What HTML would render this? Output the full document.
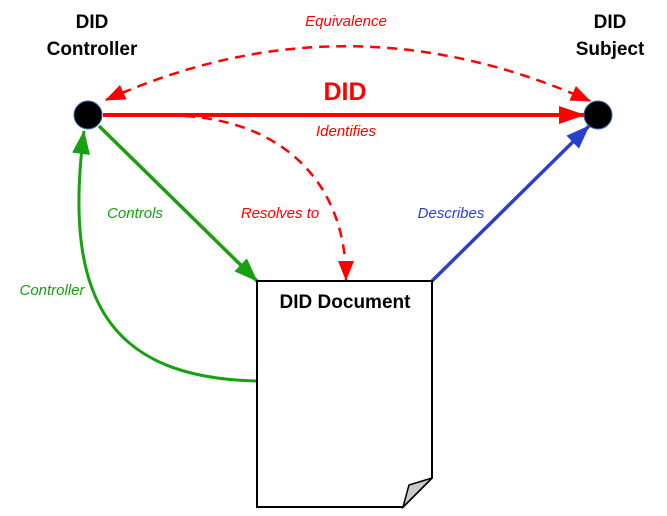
<!DOCTYPE html>
<html><head><style>body{margin:0;background:#fff}svg{display:block}</style></head><body>
<svg width="667" height="516" viewBox="0 0 667 516" xmlns="http://www.w3.org/2000/svg" font-family="Liberation Sans, sans-serif">
<defs>
<marker id="rb" markerWidth="26" markerHeight="18" refX="25" refY="9" orient="auto" markerUnits="userSpaceOnUse"><path d="M0,0L26,9L0,18z" fill="#f00"/></marker>
<marker id="rs" markerWidth="20" markerHeight="16" refX="19" refY="8" orient="auto-start-reverse" markerUnits="userSpaceOnUse"><path d="M0,0L20,8L0,16z" fill="#f00"/></marker>
<marker id="g" markerWidth="24" markerHeight="18" refX="23" refY="9" orient="auto" markerUnits="userSpaceOnUse"><path d="M0,0L24,9L0,18z" fill="#19a010"/></marker>
<marker id="b" markerWidth="24" markerHeight="18" refX="23" refY="9" orient="auto" markerUnits="userSpaceOnUse"><path d="M0,0L24,9L0,18z" fill="#2a3fcc"/></marker>
</defs>
<path d="M106,100 Q345,-8 590,101" fill="none" stroke="#f00" stroke-width="2.5" stroke-dasharray="10,7" marker-end="url(#rs)" marker-start="url(#rs)"/>
<line x1="103" y1="115" x2="584" y2="115" stroke="#f00" stroke-width="4" marker-end="url(#rb)"/>
<path d="M185,116 C280,122 346,180 346,280" fill="none" stroke="#f00" stroke-width="2.5" stroke-dasharray="10,7" marker-end="url(#rs)"/>
<line x1="99" y1="126" x2="257" y2="281" stroke="#19a010" stroke-width="3.5" marker-end="url(#g)"/>
<path d="M257,381 C110,378 62,300 84,131" fill="none" stroke="#19a010" stroke-width="3" marker-end="url(#g)"/>
<line x1="432" y1="281" x2="589" y2="126" stroke="#2a3fcc" stroke-width="3.5" marker-end="url(#b)"/>
<circle cx="88" cy="115" r="14" fill="#000" stroke="#3a6ab0" stroke-width="1"/>
<circle cx="598" cy="115" r="14" fill="#000" stroke="#3a6ab0" stroke-width="1"/>
<path d="M257,281H432V478L403,507H257Z" fill="#fff" stroke="#000" stroke-width="2"/>
<path d="M403,507L409,485L432,478Z" fill="#c8c8c8" stroke="#000" stroke-width="1.5"/>
<g font-weight="bold" font-size="19" text-anchor="middle" fill="#000">
<text x="92" y="28">DID</text><text x="92" y="55">Controller</text>
<text x="610" y="28">DID</text><text x="610" y="55">Subject</text>
<text x="345" y="308">DID Document</text>
</g>
<text x="345" y="100" font-size="25" font-weight="bold" fill="#f00" text-anchor="middle">DID</text>
<g font-style="italic" font-size="15" text-anchor="middle">
<text x="346" y="26" fill="#f00">Equivalence</text>
<text x="346" y="136" fill="#f00">Identifies</text>
<text x="135" y="218" fill="#19a010">Controls</text>
<text x="280" y="218" fill="#f00">Resolves to</text>
<text x="451" y="218" fill="#2a3fcc">Describes</text>
<text x="52" y="295" fill="#19a010">Controller</text>
</g>
</svg>
</body></html>
